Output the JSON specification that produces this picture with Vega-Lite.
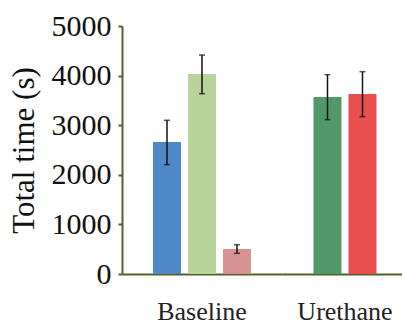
{
  "$schema": "https://vega.github.io/schema/vega-lite/v6.json",
  "padding": {"left": 8, "top": 11, "right": 0, "bottom": 0},
  "background": "white",
  "spacing": 0,
  "resolve": {"scale": {"x": "independent", "xOffset": "independent", "color": "independent", "y": "independent"}},
  "config": {"view": {"stroke": null}, "font": "Liberation Serif"},
  "data": {"values": [
    {"group": "Baseline", "series": "A", "value": 2661, "lo": 2204, "hi": 3099},
    {"group": "Baseline", "series": "B", "value": 4032, "lo": 3635, "hi": 4415},
    {"group": "Baseline", "series": "C", "value": 504, "lo": 417, "hi": 591},
    {"group": "Urethane", "series": "D", "value": 3569, "lo": 3111, "hi": 4018},
    {"group": "Urethane", "series": "E", "value": 3629, "lo": 3172, "hi": 4079}
  ]},
  "hconcat": [
    {
      "width": 160,
      "height": 248,
      "transform": [{"filter": "datum.group === 'Baseline'"}],
      "encoding": {
        "x": {"field": "group", "type": "nominal", "title": null,
          "scale": {"paddingInner": 0, "paddingOuter": 0.2619},
          "axis": {"domainColor": "#4f6228", "domainWidth": 2, "ticks": false, "labelFontSize": 26, "labelColor": "#222", "labelPadding": 24, "labelAngle": 0}},
        "xOffset": {"field": "series", "type": "nominal", "sort": ["A", "B", "C"],
          "scale": {"paddingInner": 0.2, "paddingOuter": 0.1}}
      },
      "layer": [
        {"mark": {"type": "bar"},
         "encoding": {
           "y": {"field": "value", "type": "quantitative", "scale": {"domain": [0, 5000], "nice": false},
             "axis": {"values": [0, 1000, 2000, 3000, 4000, 5000], "format": "d", "grid": false, "domainColor": "#4f6228", "domainWidth": 2, "tickColor": "#4f6228", "tickWidth": 2, "tickSize": 4, "labelFontSize": 30, "labelColor": "#111", "labelPadding": 7, "title": "Total time (s)", "titleFontSize": 31, "titleFontWeight": "normal", "titleColor": "#111", "titlePadding": 11}},
           "color": {"field": "series", "type": "nominal", "legend": null,
             "scale": {"domain": ["A", "B", "C"], "range": ["#4f88c6", "#b9d49b", "#d69392"]}}
         }},
        {"mark": {"type": "rule", "color": "#111", "strokeWidth": 1.5},
         "encoding": {"y": {"field": "lo", "type": "quantitative"}, "y2": {"field": "hi"}}},
        {"mark": {"type": "tick", "color": "#111", "size": 6, "thickness": 1.5},
         "encoding": {"y": {"field": "lo", "type": "quantitative"}}},
        {"mark": {"type": "tick", "color": "#111", "size": 6, "thickness": 1.5},
         "encoding": {"y": {"field": "hi", "type": "quantitative"}}}
      ]
    },
    {
      "width": 120,
      "height": 248,
      "transform": [{"filter": "datum.group === 'Urethane'"}],
      "encoding": {
        "x": {"field": "group", "type": "nominal", "title": null,
          "scale": {"paddingInner": 0, "paddingOuter": 0.357, "align": 0.56},
          "axis": {"domainColor": "#4f6228", "domainWidth": 2, "ticks": false, "labelFontSize": 26, "labelColor": "#222", "labelPadding": 24, "labelAngle": 0}},
        "xOffset": {"field": "series", "type": "nominal", "sort": ["D", "E"],
          "scale": {"paddingInner": 0.2, "paddingOuter": 0.1}}
      },
      "layer": [
        {"mark": {"type": "bar"},
         "encoding": {
           "y": {"field": "value", "type": "quantitative", "scale": {"domain": [0, 5000], "nice": false}, "axis": null},
           "color": {"field": "series", "type": "nominal", "legend": null,
             "scale": {"domain": ["D", "E"], "range": ["#519869", "#e85050"]}}
         }},
        {"mark": {"type": "rule", "color": "#111", "strokeWidth": 1.5},
         "encoding": {"y": {"field": "lo", "type": "quantitative"}, "y2": {"field": "hi"}}},
        {"mark": {"type": "tick", "color": "#111", "size": 6, "thickness": 1.5},
         "encoding": {"y": {"field": "lo", "type": "quantitative"}}},
        {"mark": {"type": "tick", "color": "#111", "size": 6, "thickness": 1.5},
         "encoding": {"y": {"field": "hi", "type": "quantitative"}}}
      ]
    }
  ]
}
